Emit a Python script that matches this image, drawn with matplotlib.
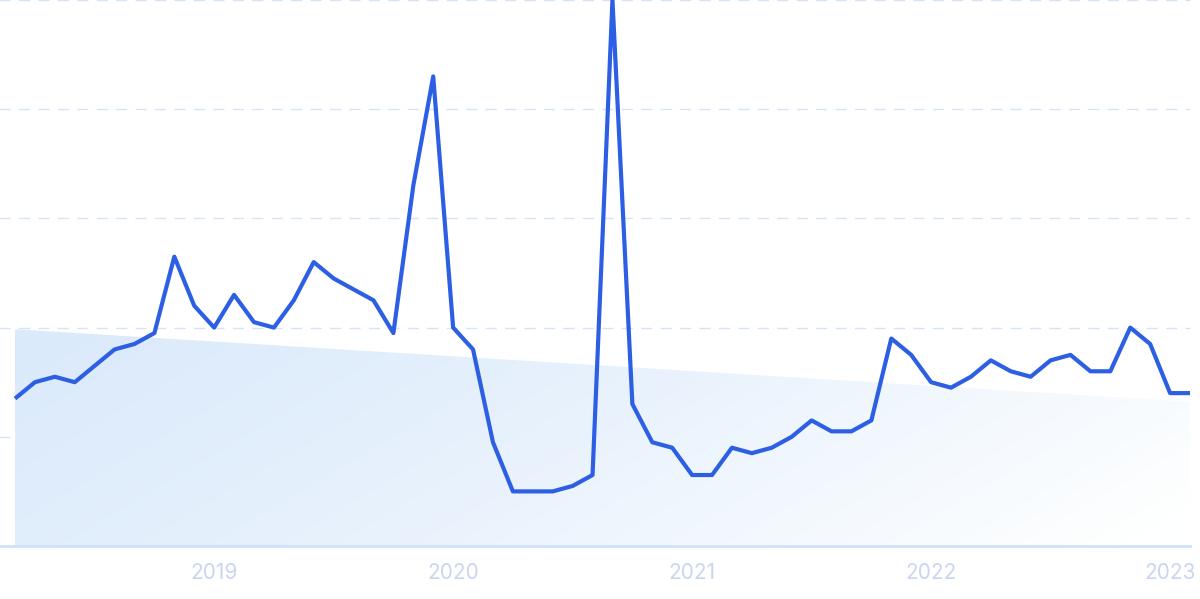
import matplotlib
matplotlib.use('Agg')

import numpy as np
import matplotlib.pyplot as plt
from matplotlib.patches import Polygon

# Monthly interest, Mar 2018 .. Feb 2023 (peak = 100)
values = [27, 30, 31, 30, 33, 36, 37, 39, 53, 44,
          40, 46, 41, 40, 45, 52, 49, 47, 45, 39,
          66, 86, 40, 36, 19, 10, 10, 10, 11, 13,
          100, 26, 19, 18, 13, 13, 18, 17, 18, 20,
          23, 21, 21, 23, 38, 35, 30, 29, 31, 34,
          32, 31, 34, 35, 32, 32, 40, 37, 28, 28]
trend_start, trend_end = 39.7, 26.4
year_labels = ['2019', '2020', '2021', '2022', '2023']
year_idx = [10, 22, 34, 46, 58]

LINE = '#2c5fe3'
GRID = '#d5e3f7'
AXIS = '#cfe2f9'
TICK = '#cbd5f2'

x = np.arange(len(values))
x_left = -0.753
x_right = len(values) - 1

fig = plt.figure(figsize=(12, 5.99), dpi=100)
ax = fig.add_axes([0, 53 / 599, 1190 / 1200, 546 / 599])
ax.set_xlim(x_left, x_right)
ax.set_ylim(0, 100)

# Gradient trend area (light blue on the left, fading to white bottom-right)
poly = Polygon([(0, 0), (0, trend_start), (x_right, trend_end), (x_right, 0)],
               closed=True, facecolor='none', edgecolor='none')
ax.add_patch(poly)
nx, ny = 300, 150
u = np.linspace(0, 1, nx)[None, :]
v = np.linspace(0, 1, ny)[:, None]
t = np.clip(0.8 * u + 0.25 * v, 0, 1) ** 1.3
c0 = np.array([219, 234, 251]) / 255
c1 = np.array([254, 255, 255]) / 255
img = c0[None, None, :] * (1 - t[..., None]) + c1[None, None, :] * t[..., None]
im = ax.imshow(img, extent=[0, x_right, 0, trend_start], origin='upper',
               aspect='auto', zorder=1, interpolation='bilinear')
im.set_clip_path(poly)

# Grid
for gy in [20, 40, 60, 80, 100]:
    ax.plot([x_left - 1, x_right], [gy, gy], color=GRID, lw=1,
            dashes=(8, 6), zorder=0.5, clip_on=False)
ax.plot([x_left - 1, x_right], [0, 0], color=AXIS, lw=2, zorder=2, clip_on=False)

ax.plot(x, values, color=LINE, lw=3.0, solid_joinstyle='round',
        solid_capstyle='butt', zorder=3, clip_on=False)

for s in ax.spines.values():
    s.set_visible(False)
ax.set_yticks([])
ax.set_xticks(year_idx)
ax.set_xticklabels(year_labels, fontfamily='Inter', fontsize=15, color=TICK)
ax.tick_params(axis='x', length=0, pad=12)

fig.savefig('out.png', dpi=100)
